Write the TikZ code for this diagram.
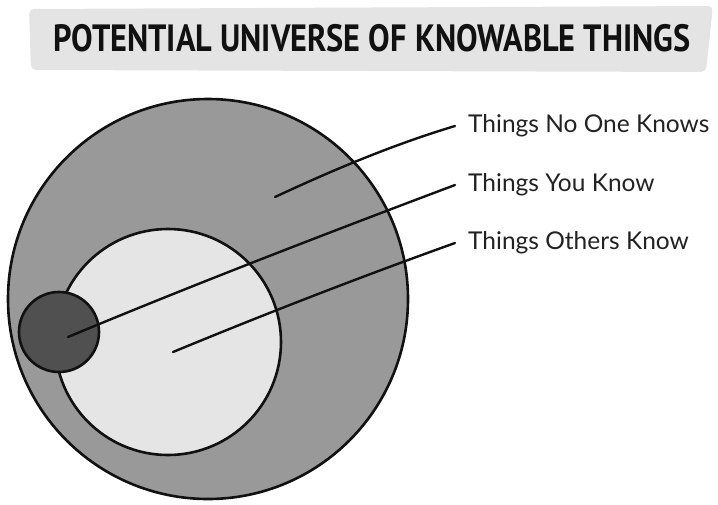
\documentclass[tikz,border=0pt]{standalone}
\usepackage{fontspec}
\setmainfont{Lato}
\newfontfamily\titlefont{PT Sans}
\usetikzlibrary{positioning}
\definecolor{ink}{HTML}{111111}
\definecolor{labelink}{HTML}{222222}
\definecolor{outer}{HTML}{999999}
\definecolor{pale}{HTML}{E5E5E5}
\definecolor{deep}{HTML}{505050}
\definecolor{banner}{HTML}{E4E4E4}
\tikzset{
  ring/.style={circle,draw=ink,line width=2.6pt,inner sep=0pt},
  leader/.style={draw=ink,line width=2.4pt,line cap=round},
  tag/.style={anchor=west,font=\fontsize{24.5}{29}\selectfont,text=labelink,inner xsep=13pt,inner ysep=0pt}
}

\begin{document}
\begin{tikzpicture}[x=1pt,y=-1pt]
    \useasboundingbox (0,0) rectangle (718,504);
    \fill[banner,rounded corners=5pt] (29,9) -- (713,6) -- (706,72) -- (31,70) -- cycle;
    \node[font=\titlefont\bfseries\fontsize{38}{44}\selectfont,text=ink] (title) at (372,38)
      {\scalebox{0.85}[1]{POTENTIAL UNIVERSE OF KNOWABLE THINGS}};

    \node[ring,fill=outer,minimum size=400pt] (universe) at (208,299) {};
    \node[ring,fill=pale,minimum size=226pt] (others) at (168,342) {};
    \node[ring,fill=deep,minimum size=80pt] (you) at (59,332) {};

    \node[tag] (nobodytag) at (455,126) {Things No One Knows};
    \node[tag] (youtag) at (455,185) {Things You Know};
    \node[tag] (otherstag) at (455,243) {Things Others Know};

    \coordinate (nobodyend) at (275,197);
    \coordinate (youend) at ([shift={(9,5)}]you.center);
    \coordinate (othersend) at ([shift={(5,10)}]others.center);
    \draw[leader] (nobodyend) .. controls (335,169) and (395,144) .. (nobodytag.west);
    \draw[leader] (youend) .. controls (190,286) and (330,232) .. (youtag.west);
    \draw[leader] (othersend) .. controls (265,314) and (360,277) .. (otherstag.west);
\end{tikzpicture}
\end{document}
